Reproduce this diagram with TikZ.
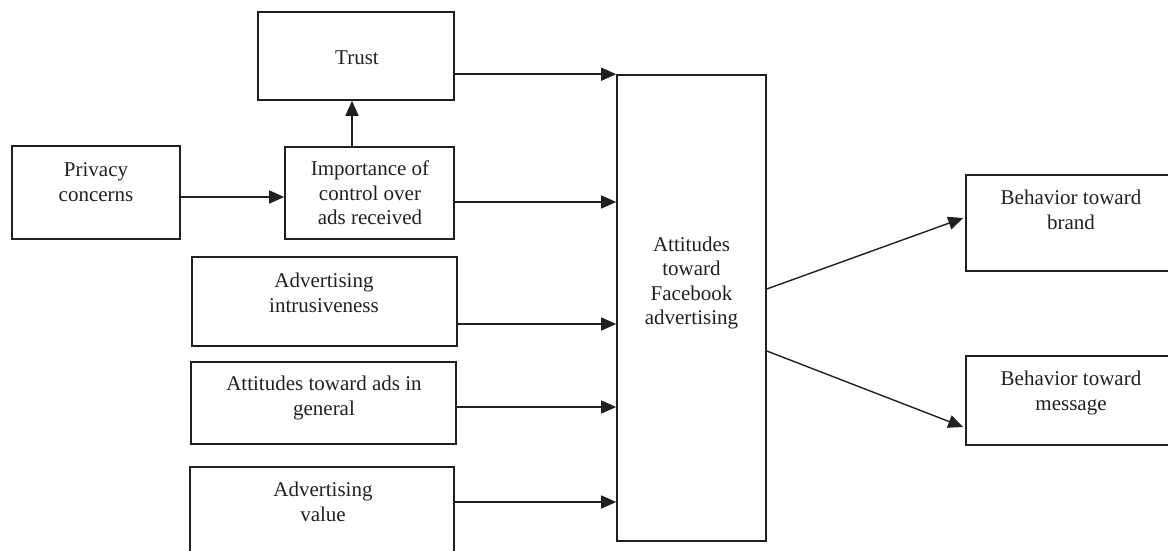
\documentclass[tikz,border=0pt]{standalone}
\usepackage{fontspec}
\setmainfont{Liberation Serif}
\usetikzlibrary{arrows.meta}
\definecolor{ink}{HTML}{231F20}
\tikzset{
  box/.style={draw=ink, line width=1.6pt, inner sep=0pt, minimum width=#1},
  txt/.style={align=center, inner sep=0pt, text=ink, font=\fontsize{21}{24.5}\selectfont},
  arr/.style={draw=ink, line width=1.4pt, -{Triangle[length=15pt,width=13pt]}},
  ln/.style={draw=ink, line width=1.4pt}
}
\begin{document}
\begin{tikzpicture}[x=1pt,y=-1pt]
\useasboundingbox (0,0) rectangle (1168,551);
\clip (0,0) rectangle (1168,551);
% boxes
\node[box=196pt, minimum height=88pt] (trust) at (356,56) {};
\node[box=168pt, minimum height=93pt] (privacy) at (96,192.5) {};
\node[box=169pt, minimum height=92pt] (imp) at (369.5,193) {};
\node[box=265pt, minimum height=89pt] (intr) at (324.5,301.5) {};
\node[box=265pt, minimum height=82pt] (gen) at (323.5,403) {};
\node[box=264pt, minimum height=130pt] (val) at (322,532) {};
\node[box=149pt, minimum height=466pt] (fb) at (691.5,308) {};
\node[box=220pt, minimum height=96pt] (brand) at (1076,223) {};
\node[box=220pt, minimum height=89pt] (msg) at (1076,400.5) {};
% texts
\node[txt] (trustT) at (357,58) {Trust};
\node[txt] (privacyT) at (96,182) {Privacy\\concerns};
\node[txt] (impT) at (370,193) {Importance of\\control over\\ads received};
\node[txt] (intrT) at (324,293) {Advertising\\intrusiveness};
\node[txt] (genT) at (324,398) {Attitudes toward ads in\\general};
\node[txt] (valT) at (323,502) {Advertising\\value};
\node[txt] (fbT) at (691.5,283) {Attitudes\\toward\\Facebook\\advertising};
\node[txt] (brandT) at (1071,210) {Behavior toward\\brand};
\node[txt] (msgT) at (1071,393) {Behavior toward\\message};
% connectors
\draw[arr] ([yshift=-4.5pt]privacy.east) coordinate (p1) -- (p1 -| imp.west);
\draw[arr] ([xshift=-17.5pt]imp.north) coordinate (p2) -- (p2 |- trust.south);
\draw[arr] (trust.east |- fb.north) -- (fb.north west);
\draw[arr] ([yshift=-9pt]imp.east) coordinate (p3) -- (p3 -| fb.west);
\draw[arr] ([yshift=-22.5pt]intr.east) coordinate (p4) -- (p4 -| fb.west);
\draw[arr] ([yshift=-4pt]gen.east) coordinate (p5) -- (p5 -| fb.west);
\draw[arr] (val.east |- 0,502) coordinate (p6) -- (p6 -| fb.west);
\draw[arr] ([yshift=19pt]fb.east) -- ([xshift=-2pt,yshift=5pt]brand.west);
\draw[arr] ([yshift=-43pt]fb.east) -- ([xshift=-2pt,yshift=-26.5pt]msg.west);
\end{tikzpicture}
\end{document}
